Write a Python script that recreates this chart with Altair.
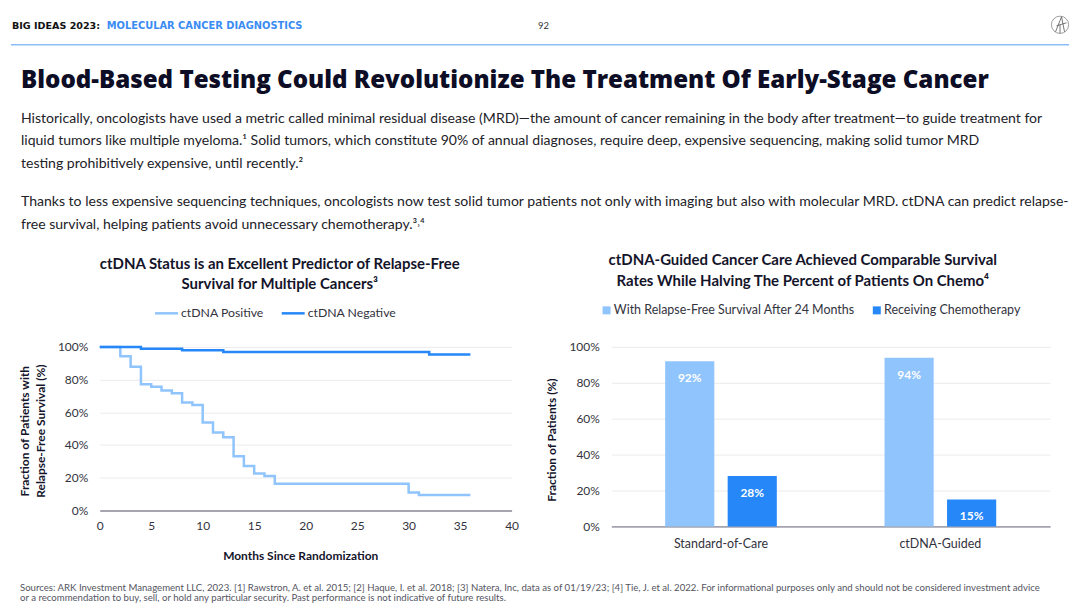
import altair as alt
import pandas as pd

# ------------------------------------------------------------------ data
SERIES = ["ctDNA Positive", "ctDNA Negative"]
POS_MONTHS = [0, 2, 3, 4, 5, 6, 7, 8, 9, 10, 11, 12, 13, 14, 15, 16, 17, 30, 31, 36]
POS_RFS = [100, 94.3, 87.8, 77.2, 75.6, 73.3, 71.6, 66.0, 64.4, 53.8, 47.7, 44.8,
           33.1, 27.1, 22.6, 21.0, 16.3, 11.0, 9.4, 9.4]
NEG_MONTHS = [0, 4, 8, 12, 32, 36]
NEG_RFS = [100, 98.8, 98.0, 96.8, 95.4, 95.4]

ARMS = ["Standard-of-Care", "ctDNA-Guided"]
MEASURES = ["With Relapse-Free Survival After 24 Months", "Receiving Chemotherapy"]
RFS_24M = [92, 94]
CHEMO = [28, 15]

HEADER_LEFT = "BIG IDEAS 2023:"
HEADER_TOPIC = "MOLECULAR CANCER DIAGNOSTICS"
PAGE_NUMBER = "92"
HEADLINE = "Blood-Based Testing Could Revolutionize The Treatment Of Early-Stage Cancer"
PARA1 = [
    "Historically, oncologists have used a metric called minimal residual disease (MRD)\u2014the amount of cancer remaining in the body after treatment\u2014to guide treatment for",
    "liquid tumors like multiple myeloma.\u00b9 Solid tumors, which constitute 90% of annual diagnoses, require deep, expensive sequencing, making solid tumor MRD",
    "testing prohibitively expensive, until recently.\u00b2",
]
PARA2 = [
    "Thanks to less expensive sequencing techniques, oncologists now test solid tumor patients not only with imaging but also with molecular MRD. ctDNA can predict relapse-",
    "free survival, helping patients avoid unnecessary chemotherapy.\u00b3\u02d2\u2074",
]
LEFT_TITLE = ["ctDNA Status is an Excellent Predictor of Relapse-Free",
              "Survival for Multiple Cancers\u00b3"]
RIGHT_TITLE = ["ctDNA-Guided Cancer Care Achieved Comparable Survival",
               "Rates While Halving The Percent of Patients On Chemo\u2074"]
LEFT_Y_TITLE = ["Fraction of Patients with", "Relapse-Free Survival (%)"]
LEFT_X_TITLE = "Months Since Randomization"
RIGHT_Y_TITLE = "Fraction of Patients (%)"
FOOTER = [
    "Sources: ARK Investment Management LLC, 2023. [1] Rawstron, A. et al. 2015; [2] Haque, I. et al. 2018; [3] Natera, Inc, data as of 01/19/23; [4] Tie, J. et al. 2022. For informational purposes only and should not be considered investment advice",
    "or a recommendation to buy, sell, or hold any particular security. Past performance is not indicative of future results.",
]

# ------------------------------------------------------------------ styles
FONT = "Lato"
INK = "#14142a"
LABEL = "#33333d"
LIGHT = "#90c4fc"
DARK = "#2688f8"
GRID = "#ebebef"
AXISLINE = "#a5a5b0"

surv = pd.DataFrame(
    [{"series": SERIES[0], "month": m, "rfs": v} for m, v in zip(POS_MONTHS, POS_RFS)]
    + [{"series": SERIES[1], "month": m, "rfs": v} for m, v in zip(NEG_MONTHS, NEG_RFS)]
)
bars = pd.DataFrame(
    [{"arm": a, "measure": MEASURES[0], "pct": v} for a, v in zip(ARMS, RFS_24M)]
    + [{"arm": a, "measure": MEASURES[1], "pct": v} for a, v in zip(ARMS, CHEMO)]
)
bars["label"] = bars["pct"].astype(int).astype(str) + "%"

# ------------------------------------------------------------------ left chart
left = alt.Chart(surv).mark_line(interpolate="step-after", strokeWidth=2.5).encode(
    x=alt.X("month:Q", scale=alt.Scale(domain=[0, 40], nice=False),
            axis=alt.Axis(values=list(range(0, 41, 5)), grid=False, ticks=False, tickSize=0,
                          domainColor=AXISLINE, domainWidth=2, labelPadding=10,
                          labelFontSize=12, labelColor=LABEL, labelFlush=False,
                          title=LEFT_X_TITLE, titleFontSize=12, titleFontWeight="bold",
                          titleColor=INK, titleX=201, titleY=45, titleBaseline="middle",
                          titleAlign="center")),
    y=alt.Y("rfs:Q", scale=alt.Scale(domain=[0, 100], nice=False),
            axis=alt.Axis(values=[0, 20, 40, 60, 80, 100], labelExpr="datum.value + '%'",
                          domain=False, ticks=False, tickSize=0, grid=True, gridColor=GRID,
                          labelPadding=12, labelFontSize=12, labelColor=LABEL,
                          labelFlush=False,
                          title=LEFT_Y_TITLE, titleFontSize=12, titleFontWeight="bold",
                          titleColor=INK, titleAngle=270, titleX=-80, titleY=84,
                          titleBaseline="top", titleAlign="center", titleLineHeight=16)),
    color=alt.Color("series:N", sort=SERIES,
                    scale=alt.Scale(domain=SERIES, range=[LIGHT, DARK]),
                    legend=alt.Legend(orient="none", legendX=54, legendY=-47,
                                      direction="horizontal", title=None,
                                      symbolType="stroke", symbolSize=530,
                                      symbolStrokeWidth=2.5, labelFontSize=12.3,
                                      labelColor=LABEL, columnPadding=12,
                                      labelOffset=1.5, padding=0, labelLimit=0)),
).properties(
    width=413, height=164,
    title=alt.TitleParams(text=LEFT_TITLE, fontSize=15, fontWeight="bold", color=INK,
                          anchor="middle", frame="group", dx=-26, offset=8,
                          lineHeight=20.5),
)

# ------------------------------------------------------------------ right chart
xenc = alt.X("arm:N", sort=ARMS, scale=alt.Scale(paddingInner=0.491, paddingOuter=0.2455),
             axis=alt.Axis(title=None, labelAngle=0, ticks=False, tickSize=0,
                           domainColor=AXISLINE, domainWidth=2, labelPadding=11,
                           labelFontSize=12.5, labelColor=LABEL))
xoff = alt.XOffset("measure:N", sort=MEASURES,
                   scale=alt.Scale(paddingInner=0.2137, paddingOuter=0))
yenc = alt.Y("pct:Q", scale=alt.Scale(domain=[0, 100], nice=False),
             axis=alt.Axis(values=[0, 20, 40, 60, 80, 100], labelExpr="datum.value + '%'",
                           domain=False, ticks=False, tickSize=0, grid=True, gridColor=GRID,
                           labelPadding=12, labelFontSize=12, labelColor=LABEL,
                           labelFlush=False,
                           title=RIGHT_Y_TITLE, titleFontSize=12, titleFontWeight="bold",
                           titleColor=INK, titleAngle=270, titleX=-65, titleY=93,
                           titleBaseline="top", titleAlign="center"))

bar_layer = alt.Chart(bars).mark_bar().encode(
    x=xenc, xOffset=xoff, y=yenc,
    color=alt.Color("measure:N", sort=MEASURES,
                    scale=alt.Scale(domain=MEASURES, range=[LIGHT, DARK]),
                    legend=alt.Legend(orient="none", legendX=-11, legendY=-43,
                                      direction="horizontal", title=None,
                                      symbolType="square", symbolSize=64,
                                      labelFontSize=12.5, labelColor=LABEL,
                                      columnPadding=15, labelOffset=1, padding=0,
                                      labelLimit=0)),
)
text_layer = alt.Chart(bars).mark_text(
    baseline="middle", dy=17, color="white", fontWeight="bold", fontSize=12, font=FONT
).encode(x=xenc, xOffset=xoff, y=yenc, text="label:N")

right = alt.layer(bar_layer, text_layer).properties(
    width=440, height=180,
    title=alt.TitleParams(text=RIGHT_TITLE, fontSize=15, fontWeight="bold", color=INK,
                          anchor="middle", frame="group", dx=-28, offset=15,
                          lineHeight=21),
)

# ------------------------------------------------------------------ page texts
OX, OY = 100, 8   # page position of the page layer's origin


def txt(s, x, y, size, color, weight="normal", align="left", baseline="middle", font=FONT):
    return alt.Chart().mark_text(
        text=s, font=font, fontSize=size, fontWeight=weight, color=color,
        align=align, baseline=baseline,
    ).encode(x=alt.value(x - OX), y=alt.value(y - OY))


def rule(x1, y1, x2, y2, color, width):
    return alt.Chart().mark_rule(color=color, strokeWidth=width).encode(
        x=alt.value(x1 - OX), x2=alt.value(x2 - OX),
        y=alt.value(y1 - OY), y2=alt.value(y2 - OY))


LX, LY = 1063, 24  # logo centre
page_layers = [
    alt.Chart().mark_rect(color="white").encode(
        x=alt.value(8 - OX), x2=alt.value(1072 - OX),
        y=alt.value(8 - OY), y2=alt.value(601 - OY)),
    txt(HEADER_LEFT, 12, 25, 9.6, "#111111", "bold", font="DejaVu Sans"),
    txt(HEADER_TOPIC, 107, 25, 9.9, "#3b8cf2", "bold", font="DejaVu Sans"),
    txt(PAGE_NUMBER, 545, 25, 9.5, "#333333", align="center"),
    rule(11, 44, 1072, 44, "#8bbef7", 1.5),
    alt.Chart().mark_point(shape="circle", size=300, filled=False, color="#555555",
                           strokeWidth=0.8).encode(
        x=alt.value(LX - OX), y=alt.value(LY - OY)),
    rule(LX - 4.5, LY + 7, LX + 1.5, LY - 8, "#555555", 0.8),
    rule(LX + 1.5, LY - 8, LX + 4.5, LY + 7, "#555555", 0.8),
    rule(LX - 3.5, LY + 1, LX + 6.5, LY - 2, "#555555", 0.8),
    rule(LX, LY, LX, LY + 8.5, "#555555", 0.8),
    txt(HEADLINE, 21, 87.5, 24.2, "#0d0d26", 800, baseline="alphabetic", font="Open Sans"),
]
for i, line in enumerate(PARA1):
    page_layers.append(txt(line, 21, 118 + 23 * i, 14.1, "#222228"))
for i, line in enumerate(PARA2):
    page_layers.append(txt(line, 21, 202 + 23 * i, 14.1, "#222228"))
for i, line in enumerate(FOOTER):
    page_layers.append(txt(line, 20, 588.5 + 10.5 * i, 9.64, "#55555f"))

page = alt.layer(*page_layers, data=pd.DataFrame({"k": [0]})).properties(width=1, height=1)

charts = alt.hconcat(left, right, spacing=100, bounds="flush").resolve_scale(
    color="independent").resolve_legend(color="independent")

chart = alt.vconcat(page, charts, spacing=338, bounds="flush").properties(
    padding=0, background="white"
).configure_view(stroke=None).configure_axis(
    labelFont=FONT, titleFont=FONT
).configure_legend(labelFont=FONT).configure_title(font=FONT)

chart.save("out.html", embed_options={"renderer": "svg", "actions": False})
